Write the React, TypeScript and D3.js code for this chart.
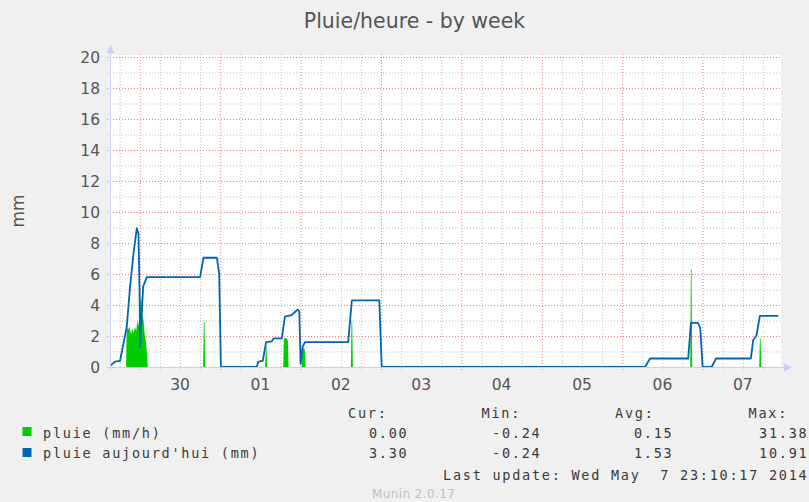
import * as d3 from 'd3'

// hours since 2014-04-29 00:00
const blueHours = [15.3, 16.6, 18.1, 19.1, 20.1, 21.1, 22.1, 23.1, 23.6, 23.9, 24.1, 24.6, 25.0, 26.1, 42.0, 43.0, 47.0, 47.7, 48.2, 58.9, 59.4, 60.7, 61.7, 63.4, 63.9, 66.4, 67.3, 69.3, 70.3, 71.1, 71.6, 72.0, 72.6, 73.3, 86.2, 87.3, 95.5, 96.2, 174.8, 176.3, 187.7, 188.5, 190.6, 191.3, 192.0, 194.7, 196.0, 206.4, 207.1, 208.1, 209.1, 214.6]
const blueValues = [0.1, 0.35, 0.4, 1.5, 2.6, 5.2, 7.3, 8.95, 8.6, 5.2, 1.3, 3.5, 5.2, 5.8, 5.8, 7.05, 7.05, 6.0, 0, 0, 0.35, 0.4, 1.6, 1.65, 1.85, 1.85, 3.25, 3.35, 3.55, 3.7, 3.6, 0.2, 1.3, 1.6, 1.6, 4.3, 4.3, 0, 0, 0.55, 0.55, 2.85, 2.85, 2.5, 0, 0, 0.55, 0.55, 1.74, 2.05, 3.3, 3.3]

const greenHours = [19.9, 20.1, 20.5, 20.9, 21.4, 21.7, 22.1, 22.6, 22.9, 23.3, 23.8, 24.1, 24.4, 24.7, 25.1, 25.4, 25.9, 26.1, 26.4, 42.9, 43.1, 43.3, 43.5, 61.4, 61.6, 61.8, 62.0, 66.8, 67.0, 67.6, 68.2, 68.4, 72.3, 72.5, 73.2, 73.5, 87.0, 87.2, 87.4, 87.6, 188.3, 188.5, 188.7, 188.9, 208.9, 209.1, 209.3, 209.5]
const greenValues = [0, 2.7, 2.4, 2.6, 2.1, 2.5, 2.2, 2.6, 2.3, 3.0, 2.6, 4.1, 4.6, 3.5, 3.0, 2.2, 1.5, 0.9, 0, 0, 2.9, 2.9, 0, 0, 1.3, 1.3, 0, 0, 1.8, 1.9, 1.7, 0, 0, 1.2, 1.2, 0, 0, 3.0, 3.0, 0, 0, 6.3, 6.3, 0, 0, 1.85, 1.85, 0]

const dayLabels = ['30', '01', '02', '03', '04', '05', '06', '07']
const dayNoons = [36, 60, 84, 108, 132, 156, 180, 204]
const yTicks = [0, 2, 4, 6, 8, 10, 12, 14, 16, 18, 20]

const legendNames = ['pluie (mm/h)', "pluie aujourd'hui (mm)"]
const legendColours = ['#00cc00', '#0066b3']
const curValues = ['0.00', '3.30']
const minValues = ['-0.24', '-0.24']
const avgValues = ['0.15', '1.53']
const maxValues = ['31.38', '10.91']

const W = 809
const H = 502
const left = 110
const right = 781
const top = 57
const bottom = 367

const App = () => {
    const x = d3.scaleLinear().domain([15.1, 215.4]).range([left, right])
    const y = d3.scaleLinear().domain([0, 20]).range([bottom, top])

    const blue = blueHours.map((h, i) => [h, blueValues[i]] as [number, number])
    const green = greenHours.map((h, i) => [h, greenValues[i]] as [number, number])

    const line = d3.line<[number, number]>().x(d => x(d[0])).y(d => y(d[1]))
    const area = d3.area<[number, number]>().x(d => x(d[0])).y0(y(0)).y1(d => y(d[1]))

    const minorH = d3.range(1, 20, 2)
    const minorV = d3.range(18, 215, 6).filter(h => h % 24 !== 0)
    const majorV = d3.range(24, 215, 24)

    const mono = '"DejaVu Sans Mono", monospace'
    const sans = '"DejaVu Sans", sans-serif'
    const legendStyle = { fontFamily: mono, fontSize: 13.5, letterSpacing: 1.75, fill: '#3a3a3a' }
    const cols = [
        { head: 'Cur:', hx: 348, vx: 408.5, vals: curValues },
        { head: 'Min:', hx: 481.5, vx: 541.5, vals: minValues },
        { head: 'Avg:', hx: 615, vx: 673.5, vals: avgValues },
        { head: 'Max:', hx: 748.5, vx: 808.5, vals: maxValues },
    ]

    return (
        <svg width={W} height={H} style={{ position: 'absolute', left: 0, top: 0 }}>
            <rect width={W} height={H} fill="#f0f0f0" />
            <rect x={left} y={top - 2} width={right - left} height={bottom - top + 2} fill="#ffffff" />

            <g strokeDasharray="1 2" strokeWidth={1}>
                {minorH.map(v => (
                    <line key={'mh' + v} x1={left - 3} x2={right} y1={y(v) + 0.5} y2={y(v) + 0.5} stroke="#c4c4c4" />
                ))}
                {minorV.map(h => (
                    <line key={'mv' + h} x1={x(h) + 0.5} x2={x(h) + 0.5} y1={top - 3} y2={bottom + 3} stroke="#c4c4c4" />
                ))}
                {yTicks.map(v => (
                    <line key={'Mh' + v} x1={left - 3} x2={right} y1={y(v) + 0.5} y2={y(v) + 0.5} stroke="#ee8080" />
                ))}
                {majorV.map(h => (
                    <line key={'Mv' + h} x1={x(h) + 0.5} x2={x(h) + 0.5} y1={top - 3} y2={bottom + 3} stroke="#ee8080" />
                ))}
            </g>

            <path d={area(green) ?? ''} fill="#00cc00" />
            <path d={line(blue) ?? ''} fill="none" stroke="#0066b3" strokeWidth={1.8} strokeLinejoin="round" />

            <g stroke="#c8cff6" strokeWidth={1}>
                <line x1={left + 0.5} x2={left + 0.5} y1={bottom + 3} y2={50} />
                <line x1={left - 3} x2={786} y1={bottom + 0.5} y2={bottom + 0.5} />
            </g>
            <path d={`M${left + 0.5},45 L${left - 3.5},53 L${left + 4.5},53 Z`} fill="#c8cff6" />
            <path d={`M792,${bottom + 0.5} L784,${bottom - 3.5} L784,${bottom + 4.5} Z`} fill="#c8cff6" />

            <text x={W / 2 + 10} y={28} textAnchor="middle" fontFamily={sans} fontSize={20.5} fill="#555">
                Pluie/heure - by week
            </text>
            <text transform="translate(18,211) rotate(-90)" textAnchor="middle" dominantBaseline="central" fontFamily={sans} fontSize={17} fill="#555">
                mm
            </text>

            {yTicks.map(v => (
                <text key={'yl' + v} x={100} y={y(v)} dy="0.36em" textAnchor="end" fontFamily={sans} fontSize={15.5} fill="#555">
                    {v}
                </text>
            ))}
            {dayNoons.map((h, i) => (
                <text key={'xl' + h} x={x(h)} y={390} textAnchor="middle" fontFamily={sans} fontSize={15.5} fill="#555">
                    {dayLabels[i]}
                </text>
            ))}

            {cols.map(c => (
                <g key={c.head}>
                    <text x={c.hx} y={418} {...legendStyle}>{c.head}</text>
                    {c.vals.map((v, i) => (
                        <text key={i} x={c.vx} y={437.5 + i * 20.5} textAnchor="end" {...legendStyle}>{v}</text>
                    ))}
                </g>
            ))}
            {legendNames.map((name, i) => (
                <g key={name}>
                    <rect x={22.5} y={427 + i * 21} width={9} height={9} fill={legendColours[i]} />
                    <text x={43} y={437.5 + i * 20.5} {...legendStyle}>{name}</text>
                </g>
            ))}
            <text x={808.5} y={479.5} textAnchor="end" {...legendStyle} style={{ whiteSpace: 'pre' }}>
                {'Last update: Wed May  7 23:10:17 2014'}
            </text>
            <text x={372} y={498} fontFamily={sans} fontSize={12} letterSpacing={0.4} fill="#c0c0c0">
                Munin 2.0.17
            </text>
        </svg>
    )
}

export default App
